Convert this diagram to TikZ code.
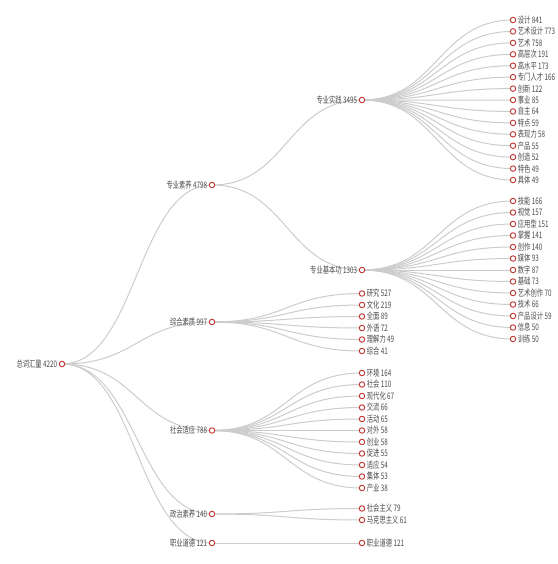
\documentclass[tikz,border=0pt]{standalone}
\usepackage{fontspec}
\newfontfamily\cjk[FakeStretch=0.7]{Noto Sans CJK SC}
\usepackage{tikz}
\usetikzlibrary{backgrounds}
\definecolor{halkaKirmizi}{HTML}{C23531}
\definecolor{baglantiGri}{HTML}{CCCCCC}
\definecolor{yaziGri}{HTML}{4A4A4A}

\begin{document}
\begin{tikzpicture}[x=1pt,y=-1pt,
  dot/.style={circle,draw=halkaKirmizi,fill=white,line width=0.9pt,minimum size=5.5pt,inner sep=0pt},
  link/.style={draw=baglantiGri,line width=1pt,to path={.. controls +(75,0) and +(-75,0) .. (\tikztotarget)}},
  every label/.style={text=yaziGri,font=\cjk\fontsize{9}{9}\selectfont,inner sep=1.5pt}]
\useasboundingbox (0,0) rectangle (557,564);
% root and first level
\node[dot,label=left:{总词汇量 4220}] (root) at (62,364) {};
\node[dot,label=left:{专业素养 4798}] (zysy) at (212,185) {};
\node[dot,label=left:{综合素质 997}] (zhsz) at (212,322) {};
\node[dot,label=left:{社会适应 788}] (shsy) at (212,430.5) {};
\node[dot,label=left:{政治素养 140}] (zzsy) at (212,514) {};
\node[dot,label=left:{职业道德 121}] (zydd) at (212,543) {};
\node[dot,label=left:{专业实践 3495}] (zysj) at (362,100) {};
\node[dot,label=left:{专业基本功 1303}] (zyjb) at (362,270) {};
\begin{scope}[on background layer]
\foreach \n in {zysy,zhsz,shsy,zzsy,zydd}
  \draw[link] (root.center) to (\n.center);
\draw[link] (zysy.center) to (zysj.center);
\draw[link] (zysy.center) to (zyjb.center);
\end{scope}
% leaves
\foreach \w [count=\i] in {设计 841,艺术设计 773,艺术 758,高层次 191,高水平 173,专门人才 166,创新 122,事业 85,自主 64,特点 59,表现力 58,产品 55,创造 52,特色 49,具体 49}{
  \node[dot,label=right:{\w}] (sj\i) at (513,{20+(\i-1)*11.43}) {};
  \begin{scope}[on background layer]
    \draw[link] (zysj.center) to (sj\i.center);
  \end{scope}
}
\foreach \w [count=\i] in {技能 166,视觉 157,应用型 151,掌握 141,创作 140,媒体 93,数字 87,基础 73,艺术创作 70,技术 66,产品设计 59,信息 50,训练 50}{
  \node[dot,label=right:{\w}] (jb\i) at (513,{201+(\i-1)*11.5}) {};
  \begin{scope}[on background layer]
    \draw[link] (zyjb.center) to (jb\i.center);
  \end{scope}
}
\foreach \w [count=\i] in {研究 527,文化 219,全面 89,外语 72,理解力 49,综合 41}{
  \node[dot,label=right:{\w}] (zh\i) at (362,{293.5+(\i-1)*11.5}) {};
  \begin{scope}[on background layer]
    \draw[link] (zhsz.center) to (zh\i.center);
  \end{scope}
}
\foreach \w [count=\i] in {环境 164,社会 110,现代化 67,交流 66,活动 65,对外 58,创业 58,促进 55,适应 54,集体 53,产业 38}{
  \node[dot,label=right:{\w}] (sh\i) at (362,{373+(\i-1)*11.5}) {};
  \begin{scope}[on background layer]
    \draw[link] (shsy.center) to (sh\i.center);
  \end{scope}
}
\foreach \w [count=\i] in {社会主义 79,马克思主义 61}{
  \node[dot,label=right:{\w}] (zz\i) at (362,{508.5+(\i-1)*11.5}) {};
  \begin{scope}[on background layer]
    \draw[link] (zzsy.center) to (zz\i.center);
  \end{scope}
}
\node[dot,label=right:{职业道德 121}] (zd1) at (362,543) {};
\begin{scope}[on background layer]
  \draw[link] (zydd.center) to (zd1.center);
\end{scope}
\end{tikzpicture}
\end{document}
